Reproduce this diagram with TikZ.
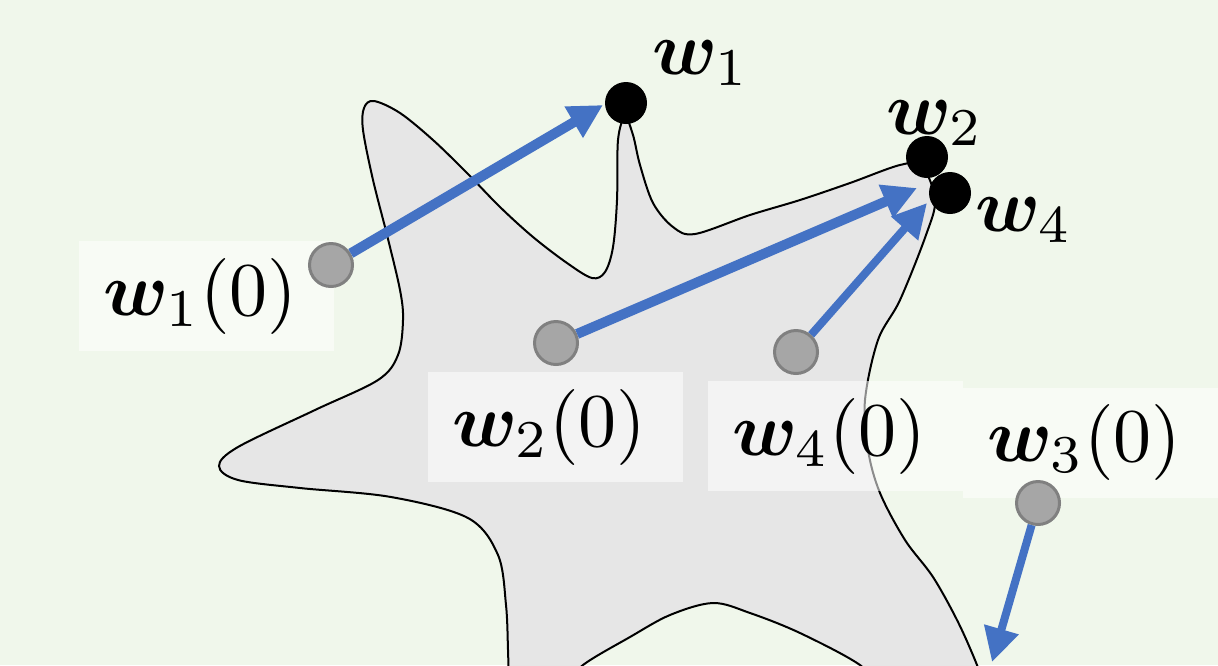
\documentclass[tikz,border=0pt]{standalone}
\usepackage{amsmath,amssymb}
\usepackage{bm}
\usepackage{xcolor}
\usepackage{tikz}
\usetikzlibrary{arrows.meta, positioning}
\definecolor{PaleGreen}{RGB}{240,247,235}
\definecolor{BlobGray}{RGB}{230,230,230}
\definecolor{DotGray}{RGB}{166,166,166}
\definecolor{RimGray}{RGB}{128,128,128}
\definecolor{StepBlue}{RGB}{68,114,196}
\newcommand{\wlab}[1]{\scalebox{3.8}{$#1$}}

\begin{document}
\begin{tikzpicture}[
  x=0.5pt, y=-0.5pt,
  blob/.style={fill=BlobGray, draw=black, line width=1pt},
  optpt/.style={circle, fill=black, minimum size=21pt, inner sep=0pt},
  initpt/.style={circle, fill=DotGray, draw=RimGray, line width=1.5pt,
                 minimum size=21.5pt, inner sep=0pt},
  tag/.style={rectangle, fill=white, fill opacity=0.55, text opacity=1,
              minimum height=55pt, text width=103.5pt, inner xsep=12pt,
              inner ysep=0pt, align=left},
  optlbl/.style={anchor=base west, inner sep=0pt},
  arrow/.style={-{Triangle[length=17pt, width=17pt]}, StepBlue, line width=5pt},
  thinarrow/.style={arrow, line width=4pt}
]

\useasboundingbox (0,0) rectangle (1218,665);
\clip (0,0) rectangle (1218,665);
\fill[PaleGreen] (0,0) rectangle (1218,665);

\draw[blob] (509,720) -- plot[smooth, tension=0.55] coordinates {
    (509,690) (508,650) (506,605) (498,555) (468,518) (391,497) (300,488)
    (238,480) (219,466) (238,447) (315,410) (378,380) (398,355) (403,320)
    (400,290) (387,235) (373,180) (363,130) (364,108) (374,101) (400,113)
    (433,140) (467,173) (500,207) (533,237) (567,263) (592,278) (605,272)
    (613,247) (617,200) (618,140) (625,117) (633,135) (640,165) (653,203)
    (673,227) (695,234) (750,215) (800,200) (850,183) (900,165) (922,166)
    (935,200) (926,235) (900,300) (878,340) (865,400) (868,450) (880,493)
    (905,540) (933,577) (958,622) (977,665) (985,690)}
  -- (985,720) -- (880,720) -- plot[smooth, tension=0.55] coordinates {
    (880,690) (860,665) (800,633) (750,613) (713,603) (670,615) (630,637)
    (583,665) (560,690)}
  -- (560,720) -- cycle;

\node[optpt] (w1) at (626,103) {};
\node[optpt] (w2) at (927,157) {};
\node[optpt] (w4) at (950,193) {};

\node[optlbl] (lw1) at (652,74) {\wlab{\bm{w}_1}};
\node[optlbl] (lw2) at (886,134) {\wlab{\bm{w}_2}};
\node[optlbl] (lw4) at (975,231) {\wlab{\bm{w}_4}};

\node[tag] (t1) at (206.5,296) {\wlab{\bm{w}_1(0)}};
\node[tag] (t2) at (555.5,427) {\wlab{\bm{w}_2(0)}};
\node[tag] (t4) at (835.5,436) {\wlab{\bm{w}_4(0)}};
\node[tag] (t3) at (1090.5,442.5) {\wlab{\bm{w}_3(0)}};

\node[initpt] (w1i) at (331,265) {};
\node[initpt] (w2i) at (556,343) {};
\node[initpt] (w4i) at (796,352) {};
\node[initpt] (w3i) at (1038,503) {};

\coordinate (h1) at (603,105);
\coordinate (h2) at (917,188);
\coordinate (h4) at (927,203);
\coordinate (h3) at (992,662);

\draw[arrow] (w1i) -- (h1);
\draw[arrow] (w2i) -- (h2);
\draw[thinarrow] (w4i) -- (h4);
\draw[thinarrow] (w3i) -- (h3);

\end{tikzpicture}
\end{document}
